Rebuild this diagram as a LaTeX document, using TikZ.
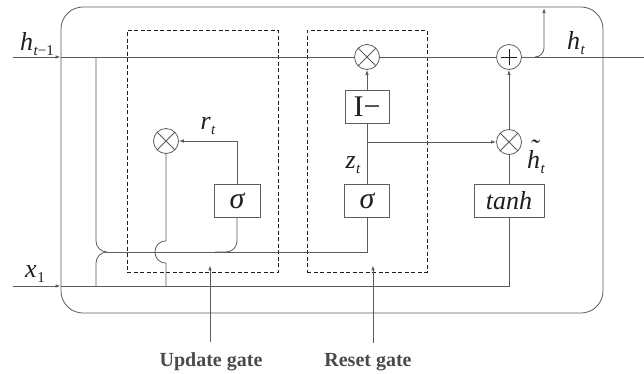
\documentclass[tikz,border=0pt]{standalone}
\usepackage{fontspec}
\setmainfont{Liberation Serif}
\usetikzlibrary{arrows.meta}
\definecolor{wire}{HTML}{5C5C5C}
\definecolor{ink}{HTML}{1E1E1E}
\definecolor{capgray}{HTML}{4A4A4A}
% italic symbol with a lowered index
\newcommand\sym[2]{#1\kern0.5pt\raisebox{-0.45ex}{\fontsize{15}{15}\selectfont #2}}
% italic h with a tilde above it
\newcommand\htilde{\ooalign{\textit{h}\cr\hidewidth\raisebox{0.42em}{\textit{\char"02DC}}\kern-1pt\hidewidth\cr}}
\begin{document}
\begin{tikzpicture}[x=1pt,y=-1pt,
  wire/.style={draw=wire, line width=0.8pt},
  arr/.style={wire, -{Latex[length=5pt,width=3.5pt]}},
  opbox/.style={draw=wire, line width=0.8pt, minimum height=33pt, inner sep=0pt, text=ink},
  gatebox/.style={draw=ink, dash pattern=on 4pt off 2.5pt, line width=0.7pt,
                  minimum width=#1, minimum height=242pt, inner sep=0pt},
  mul/.style={circle, draw=wire, line width=0.8pt, minimum size=25pt, inner sep=0pt,
    path picture={\draw[wire]
      (path picture bounding box.north west) -- (path picture bounding box.south east)
      (path picture bounding box.north east) -- (path picture bounding box.south west);}},
  add/.style={circle, draw=wire, line width=0.8pt, minimum size=25pt, inner sep=0pt,
    path picture={\draw[ink, line width=1pt]
      ([xshift=-8pt]path picture bounding box.center) -- ([xshift=8pt]path picture bounding box.center)
      ([yshift=-8pt]path picture bounding box.center) -- ([yshift=8pt]path picture bounding box.center);}},
  lbl/.style={text=ink, font=\fontsize{26}{28}\selectfont\itshape, inner sep=0pt},
  capt/.style={text=capgray, font=\fontsize{20}{22}\selectfont\bfseries, inner sep=0pt}
]
\useasboundingbox (0,0) rectangle (644,373);

% cell frame and gate outlines
\node[draw=wire, line width=0.8pt, rounded corners=22pt, minimum width=542pt,
      minimum height=306pt, inner sep=0pt] (cell) at (332,160) {};
\node[gatebox=151pt] (upd) at (202.5,151) {};
\node[gatebox=120pt] (rst) at (367,151) {};

% operators
\node[mul] (rmul) at (166,141) {};
\node[mul] (zmul) at (367,57) {};
\node[mul] (hmul) at (509,142) {};
\node[add] (plus) at (509,57) {};

% activation boxes
\node[opbox, minimum width=46pt] (sigu) at (237,200.5) {\fontsize{30}{30}\selectfont\itshape σ};
\node[opbox, minimum width=45pt] (sigr) at (367,200.5) {\fontsize{30}{30}\selectfont\itshape σ};
\node[opbox, minimum width=44pt] (omin) at (367,106.5) {\fontsize{30}{30}\selectfont I−};
\node[opbox, minimum width=70pt] (tanh) at (509,200.5) {\fontsize{26}{26}\selectfont\itshape tanh};

% free ends
\coordinate (hin) at (13,57);
\coordinate (xin) at (13,286);
\coordinate (hout) at (644,57);
\coordinate (tapL) at (96,57);
\coordinate (tapX) at (96,286);
\coordinate (busL) at (107,252);
\coordinate (outup) at (544,8);

% hidden state line
\draw[arr] (hin) -- (hin -| cell.west);
\draw[wire] (hin -| cell.west) -- (zmul.west) (zmul.east) -- (plus.west) (plus.east) -- (hout);
\draw[arr, rounded corners=9pt] (535,57) -- (544,57) -- (outup);

% input line
\draw[arr] (xin) -- (xin -| cell.west);
\draw[wire] (xin -| cell.west) -- (xin -| tanh.south) -- (tanh.south);

% shared bus feeding both sigmoids
\draw[wire, rounded corners=11pt] (tapL) -- (96,252) -- (busL);
\draw[wire, rounded corners=11pt] (tapX) -- (96,252) -- (busL);
\draw[wire] (busL) -- (busL -| sigr.south) -- (sigr.south);
\draw[wire, rounded corners=11pt] (sigu.south) -- (sigu.south |- busL) -- (215,252);

% update gate branch
\draw[arr] (sigu.north) -- (sigu.north |- rmul.east) -- (rmul.east);
\draw[wire] (rmul.south) -- (166,241) .. controls (151.3,241) and (151.3,263) .. (166,263) -- (rmul.south |- tapX);

% reset gate branch
\draw[wire] (sigr.north) -- (omin.south);
\draw[arr] (omin.north) -- (zmul.south);
\draw[arr] (sigr.north |- hmul.west) -- (hmul.west);
\draw[wire] (tanh.north) -- (hmul.south);
\draw[arr] (hmul.north) -- (plus.south);

% labels
\node[lbl] (lhin) at (37,44) {\sym{h}{t\upshape −1}};
\node[lbl] (lxin) at (35,274) {\sym{x}{\upshape 1}};
\node[lbl] (lr) at (208,126) {\sym{r}{t}};
\node[lbl] (lz) at (353,165) {\sym{z}{t}};
\node[lbl] (lht) at (536,162) {\sym{\htilde}{t}};
\node[lbl] (lh) at (576,43) {\sym{h}{t}};

% captions
\node[capt, anchor=base] (ucap) at (211,366) {Update gate};
\node[capt, anchor=base] (rcap) at (368,366) {Reset gate};
\draw[arr, shorten >=3pt] ([xshift=-1pt,yshift=10pt]ucap.north) -- ([xshift=-1pt,yshift=10pt]ucap.north |- upd.south);
\draw[arr, shorten >=3pt] ([xshift=5pt,yshift=10pt]rcap.north) -- ([xshift=5pt,yshift=10pt]rcap.north |- rst.south);
\end{tikzpicture}
\end{document}
